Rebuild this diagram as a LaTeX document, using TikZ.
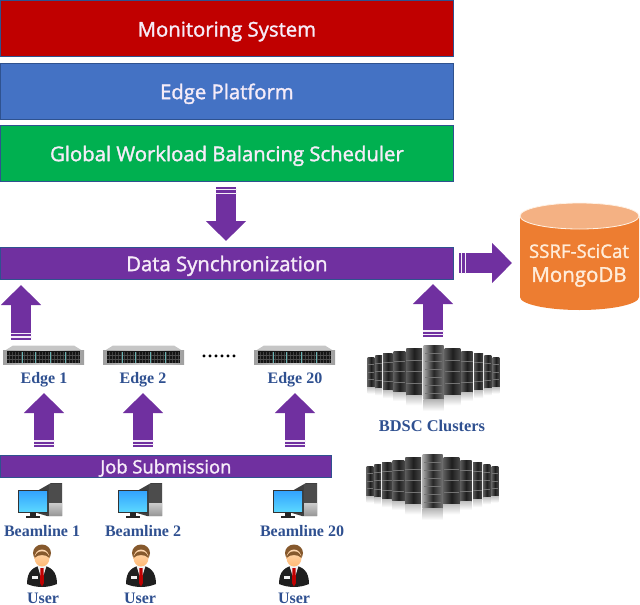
\documentclass[tikz,border=0pt]{standalone}
\usepackage{fontspec}
\setmainfont{Liberation Serif}
\newfontfamily\barfont[FakeBold=1.6]{Open Sans}
\usetikzlibrary{arrows.meta,calc}
\definecolor{violetbar}{HTML}{7030A0}
\definecolor{edgeblue}{HTML}{2F528F}
\definecolor{labelblue}{HTML}{2F5090}
\definecolor{barred}{HTML}{C00000}
\definecolor{barblue}{HTML}{4472C4}
\definecolor{bargreen}{HTML}{00B050}
\definecolor{dborange}{HTML}{ED7D31}
\definecolor{dbtop}{HTML}{F4B183}
\definecolor{pale}{HTML}{F6ECF8}
\newcommand{\linkarrow}[2]{%
  \draw[blockarrow] (#1) -- (#2);
  \draw[stripegap] ($(#1)!2pt!(#2)$) -- ($(#1)!3.2pt!(#2)$);
  \draw[stripegap] ($(#1)!5.5pt!(#2)$) -- ($(#1)!6.7pt!(#2)$);
}
\tikzset{
  layerbar/.style={draw=edgeblue,line width=0.8pt,inner sep=0,anchor=north west,text=pale,text height=18.5pt,text depth=3pt,font=\barfont\fontsize{20.3}{24}\selectfont,align=center},
  lbl/.style={inner sep=0,anchor=base,text=labelblue,font=\bfseries\fontsize{16}{19}\selectfont},
  blockarrow/.style={violetbar,line width=20pt,line cap=butt,-{Triangle[length=20pt,width=39pt]}},
  stripegap/.style={white!92!violetbar,line width=21pt,line cap=butt},
  pics/rackunit/.style={code={
    \fill[gray!45] (2,5) -- (10,0) -- (71,0) -- (79,5) -- cycle;
    \shade[left color=gray!75,right color=gray!75,middle color=gray!40] (0,5) rectangle (81,19);
    \fill[black!92] (4,5.5) rectangle (77,17.5);
    \foreach \xx in {6,9,...,75}{\draw[black!75,line width=0.25pt] (\xx,6) -- (\xx,17);}
    \draw[black!70,line width=0.3pt] (4,9.5) -- (77,9.5) (4,13.5) -- (77,13.5);
    \foreach \xx in {19,32,47,62}{\draw[teal!60,line width=0.8pt] (\xx,6) -- (\xx,17);}
  }},
  pics/desktop/.style={code={
    \fill[black!75] (19,8) -- (33,0) -- (44,0) -- (44,33) -- (29,33) -- (19,30) -- cycle;
    \fill[black!70] (31,1) rectangle (44,33);
    \shade[top color=black!20,bottom color=black!40] (31,20) rectangle (44,32);
    \fill[black!80] (0,7) rectangle (30,29.5);
    \shade[top color=cyan!55!blue!80,bottom color=cyan!75!blue!65] (1,8) rectangle (29,28);
    \fill[black!85] (12,29) rectangle (18,33);
    \fill[black!85] (8,33) rectangle (22,35);
  }},
  pics/person/.style={code={
    \fill[black!88] (0,32) .. controls (0,18) and (7,15) .. (15,13) .. controls (23,15) and (30,18) .. (30,32) .. controls (20,36) and (10,36) .. (0,32) -- cycle;
    \fill[white!90!gray] (10.5,14) -- (19.5,14) -- (16,25) -- (14,25) -- cycle;
    \fill[red!75!black] (13.5,16) -- (16.5,16) -- (17,31) -- (15,34.5) -- (13,31) -- cycle;
    \fill[white!90!gray] (5,24) rectangle (11,27);
    \fill[brown!70!black] (15,1) ellipse (9 and 8.5);
    \shade[top color=orange!30!white,bottom color=orange!55!white] (15,6) ellipse (7.5 and 8.5);
    \fill[brown!70!black] (7.5,6) .. controls (9,-3) and (21,-3) .. (22.5,6) .. controls (19,2) and (11,2) .. (7.5,6) -- cycle;
  }},
  pics/towers/.style={code={
    \foreach \xa/\xb/\ya/\yb in {
      0.7/7.3/12/42,8.3/15/10/43,16/25.7/8/45,26.7/38.3/6/47,39.3/55/3/50,
      77.7/93.3/3/50,94.3/105.7/6/47,107/116/8/45,117.3/124.3/10/43,125.7/132.3/12/42}{
      \shade[left color=black!65,right color=black!72,middle color=black!88] (\xa,\ya) rectangle (\xb,\yb);
      \shade[top color=black!25,bottom color=white] (\xa,\yb) rectangle (\xb,{\yb+0.22*(\yb-\ya)});
      \foreach \yy in {0.25,0.5,0.75}{\draw[black!55,line width=0.25pt] (\xa,{\ya+\yy*(\yb-\ya)}) -- (\xb,{\ya+\yy*(\yb-\ya)});}
    }
    \shade[left color=black!35,right color=black!55,middle color=black!85] (56.7,0) rectangle (76.7,54);
    \shade[top color=black!30,bottom color=white] (56.7,54) rectangle (76.7,66);
    \foreach \yy in {8,16,...,48}{\draw[black!55,line width=0.3pt] (58,\yy) -- (75,\yy);}
  }}
}
\begin{document}
\begin{tikzpicture}[x=1pt,y=-1pt]
\useasboundingbox (0,0) rectangle (640,605);
% layer bars
\node[layerbar,fill=barred,minimum width=453pt,minimum height=56pt] (mon) at (0,0.4) {Monitoring System};
\node[layerbar,fill=barblue,minimum width=453pt,minimum height=56pt] (edgep) at (0,63) {Edge Platform};
\node[layerbar,fill=bargreen,minimum width=453pt,minimum height=56pt] (glob) at (0,125) {Global Workload Balancing Scheduler};
\node[layerbar,fill=violetbar,minimum width=453pt,minimum height=32pt] (sync) at (0,247) {Data Synchronization};
\node[layerbar,fill=violetbar,minimum width=331pt,minimum height=22pt,text height=17pt,font=\barfont\fontsize{18.4}{22}\selectfont] (job) at (0,455) {Job Submission};
% database
\fill[dborange] (520,216) -- (520,297) arc[start angle=180,end angle=0,x radius=59.5,y radius=13] -- (639,216) -- cycle;
\fill[dbtop,draw=white!90!orange,line width=0.8pt] (579.5,216) ellipse (59.5 and 13);
\node[inner sep=0,align=center,text=white!85!orange,font=\barfont\fontsize{18.6}{24}\selectfont] (db) at (579,265.5) {SSRF-SciCat\\{\fontsize{20.5}{24}\selectfont MongoDB}};
% edge servers
\pic at (3,345.5) {rackunit};
\pic at (103,345.5) {rackunit};
\pic at (254,345.5) {rackunit};
\node[inner sep=0,anchor=base,font=\fontsize{24}{26}\selectfont] (dots) at (219,357) {......};
\node[lbl] (e1) at (44,383) {Edge 1};
\node[lbl] (e2) at (143,383) {Edge 2};
\node[lbl] (e20) at (295,383) {Edge 20};
% clusters
\pic at (367,345) {towers};
\pic at (366,454) {towers};
\node[lbl,font=\bfseries\fontsize{16.4}{19}\selectfont] (bdsc) at (432,431) {BDSC Clusters};
% beamlines
\pic at (18,483) {desktop};
\pic at (118,483) {desktop};
\pic at (273,483) {desktop};
\node[lbl] (b1) at (42,536) {Beamline 1};
\node[lbl] (b2) at (143,536) {Beamline 2};
\node[lbl] (b20) at (302,536) {Beamline 20};
% users
\pic at (27,552) {person};
\pic at (126,552) {person};
\pic at (279,552) {person};
\node[lbl] (u1) at (43,603) {User};
\node[lbl] (u2) at (140,603) {User};
\node[lbl] (u20) at (294,603) {User};
% connector end points
\coordinate (gout) at (226,187);  \coordinate (sin) at (226,241);
\coordinate (e1out) at (21,339.5); \coordinate (s1) at (21,285);
\coordinate (cout) at (433,337);  \coordinate (s2) at (433,284);
\coordinate (sout) at (459,263);  \coordinate (dbin) at (512,263);
\coordinate (j1) at (44,447); \coordinate (e1in) at (44,393);
\coordinate (j2) at (143,447); \coordinate (e2in) at (143,393);
\coordinate (j20) at (295,447); \coordinate (e20in) at (295,393);
% connectors
\linkarrow{gout}{sin}
\linkarrow{e1out}{s1}
\linkarrow{cout}{s2}
\linkarrow{sout}{dbin}
\linkarrow{j1}{e1in}
\linkarrow{j2}{e2in}
\linkarrow{j20}{e20in}
\end{tikzpicture}
\end{document}
